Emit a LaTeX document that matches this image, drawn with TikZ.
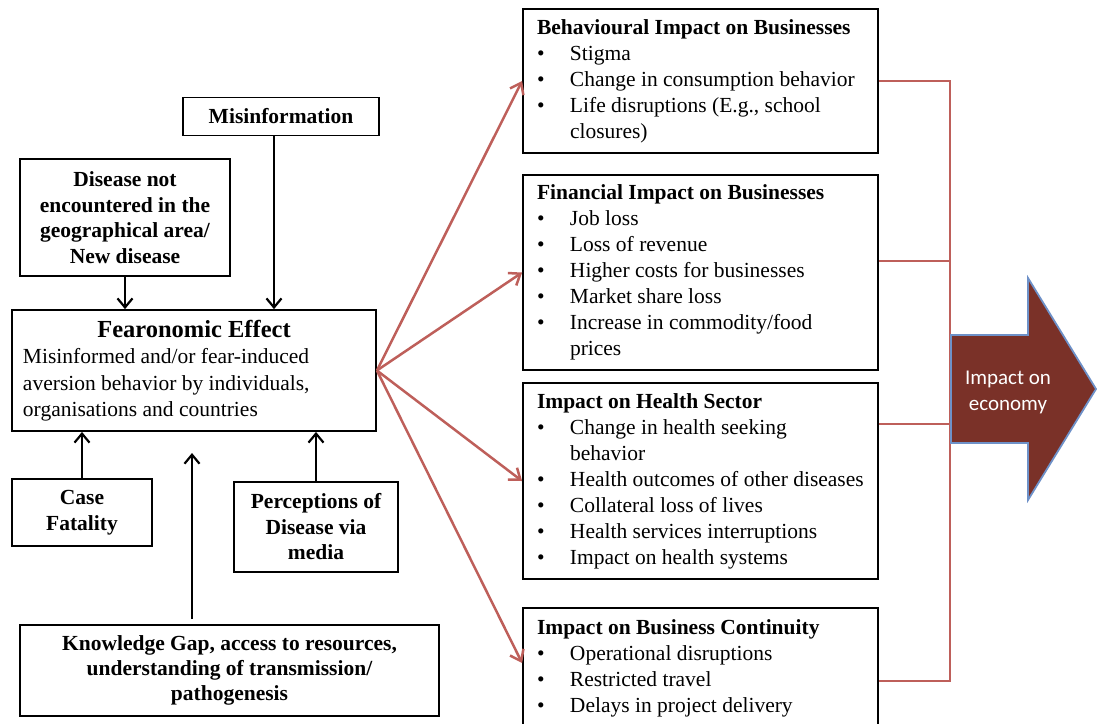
\documentclass[tikz,border=0pt]{standalone}
\usepackage{fontspec}
\setmainfont{Liberation Serif}
\newfontfamily\calfont{Carlito}
\usetikzlibrary{arrows.meta}
\definecolor{linkred}{RGB}{190,95,90}
\definecolor{arrfill}{RGB}{122,49,40}
\definecolor{arredge}{RGB}{110,145,200}
\newcommand\bl{\makebox[33pt][l]{\textbullet}}
\newcommand\ind{\hspace*{33pt}}
\begin{document}
\begin{tikzpicture}[x=1pt,y=-1pt,
  lbox/.style={draw=black, line width=1.8pt, align=flush center, inner sep=0pt,
    font=\fontsize{21.5}{25.5}\selectfont\bfseries},
  rbox/.style={draw=black, line width=1.8pt, align=flush left, text width=327pt,
    inner xsep=14pt, inner ysep=0pt, font=\fontsize{21.5}{26}\selectfont},
  blk/.style={line width=2.2pt, -{Straight Barb[length=9pt,width=15pt,line width=2.2pt]}},
  rline/.style={draw=linkred, line width=2.5pt},
  rarr/.style={draw=linkred, line width=2.5pt, -{Straight Barb[length=10pt,width=15pt,line width=2.5pt]}}
]
\useasboundingbox (0,0) rectangle (1097,723);
\clip (0,0) rectangle (1097,723);

% left side boxes
\node[lbox, minimum width=196pt, minimum height=38pt] (mis) at (281,116.5) {Misinformation};
\node[lbox, minimum width=210pt, minimum height=117pt] (dis) at (125,217.5)
  {Disease not\\encountered in the\\geographical area/\\New disease};
\node[draw=black, line width=1.8pt, align=flush left, text width=342pt, inner xsep=11pt,
  inner ysep=0pt, minimum height=121pt, font=\fontsize{21.5}{26.5}\selectfont] (fear) at (194,370.5)
  {\makebox[342pt][c]{\fontsize{24.5}{26}\selectfont\bfseries Fearonomic Effect}\\
   Misinformed and/or fear-induced\\
   aversion behavior by individuals,\\
   organisations and countries};
\node[lbox, minimum width=140pt, minimum height=67pt] (case) at (82,512.5) {Case\\Fatality};
\node[lbox, minimum width=164pt, minimum height=90pt] (perc) at (316,527)
  {Perceptions of\\Disease via\\media};
\node[lbox, minimum width=419pt, minimum height=91pt, font=\fontsize{21.5}{25}\selectfont\bfseries] (know) at (229.5,670.5)
  {Knowledge Gap, access to resources,\\understanding of transmission/\\pathogenesis};
\coordinate (kgtip) at (192,453);

% right side boxes
\node[rbox, minimum height=144pt] (beh) at (700.5,81)
  {\textbf{Behavioural Impact on Businesses}\\
   \bl Stigma\\
   \bl Change in consumption behavior\\
   \bl Life disruptions (E.g., school\\
   \ind closures)};
\node[rbox, minimum height=195pt] (fin) at (700.5,272.5)
  {\textbf{Financial Impact on Businesses}\\
   \bl Job loss\\
   \bl Loss of revenue\\
   \bl Higher costs for businesses\\
   \bl Market share loss\\
   \bl Increase in commodity/food\\
   \ind prices};
\node[rbox, minimum height=196pt] (hea) at (700.5,481)
  {\textbf{Impact on Health Sector}\\
   \bl Change in health seeking\\
   \ind behavior\\
   \mbox{\bl Health outcomes of other diseases}\\
   \bl Collateral loss of lives\\
   \bl Health services interruptions\\
   \bl Impact on health systems};
\node[rbox, minimum height=120pt] (con) at (700.5,668)
  {\textbf{Impact on Business Continuity}\\
   \bl Operational disruptions\\
   \bl Restricted travel\\
   \bl Delays in project delivery};

% black arrows into Fearonomic Effect
\draw[blk] (dis.south) -- (dis.south |- fear.north);
\draw[blk] ([xshift=-7pt]mis.south) -- ([xshift=-7pt]mis.south |- fear.north);
\draw[blk] (case.north) -- (case.north |- fear.south);
\draw[blk] (perc.north) -- (perc.north |- fear.south);
\draw[blk] ([xshift=-37.5pt,yshift=5pt]know.north) -- (kgtip);

% red arrows out of Fearonomic Effect
\draw[rarr] (fear.east) -- (beh.west);
\draw[rarr] (fear.east) -- (fin.west);
\draw[rarr] (fear.east) -- (hea.west);
\draw[rarr] (fear.east) -- ([yshift=5pt]con.west);

% collector line
\coordinate (bustop) at (950,81);
\coordinate (busbot) at (950,681);
\draw[rline, line join=miter] (beh.east) -- (bustop) -- (busbot) -- ([yshift=-13pt]con.east);
\draw[rline] ([yshift=11.5pt]fin.east) -- ([yshift=11.5pt]fin.east -| bustop);
\draw[rline] ([yshift=57pt]hea.east) -- ([yshift=57pt]hea.east -| bustop);

% big arrow
\draw[fill=arrfill, draw=arredge, line width=1.8pt, line join=miter]
  (951,335) -- (1028,335) -- (1028,278) -- (1096,389) -- (1028,500) -- (1028,443) -- (951,443) -- cycle;
\node[text=white, align=center, font=\calfont\fontsize{21}{26}\selectfont] (econ) at (1008,392)
  {Impact on\\economy};
\end{tikzpicture}
\end{document}
